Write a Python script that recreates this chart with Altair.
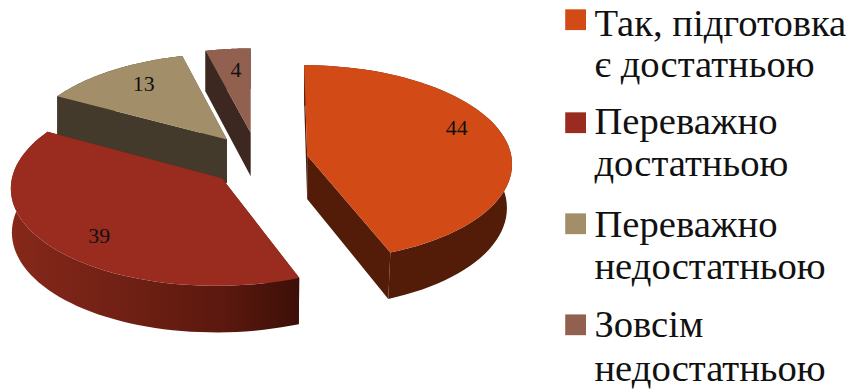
import math
import altair as alt
import pandas as pd

categories = ["Так, підготовка є достатньою", "Переважно достатньою", "Переважно недостатньою", "Зовсім недостатньою"]
values = [44, 39, 13, 4]
top_colors = ["#d24a16", "#992b1f", "#a38e6a", "#92604f"]
wall_colors = ["#521c08", "#6a1e12", "#433a2b", "#3c2820"]
legend_lines = [["Так, підготовка", "є достатньою"], ["Переважно", "достатньою"],
                ["Переважно", "недостатньою"], ["Зовсім", "недостатньою"]]

# geometry of the exploded, tilted pie, in picture pixels: cx, cy, rx, ry, shear, bottom-rim factor
geom = [(307, 155, 206, 98.5, -3, 0.975), (221, 178, 212, 101, 6, 0.995), (226, 139, 204, 94, 2, 1.0), (250, 132, 198, 92, 0, 1.0)]
DEPTH = 44
KP = 0.076
label_pos = [(458, 127), (97, 236), (142, 83), (235, 69)]
swatch_x = 578
swatch_y = [18, 122, 224, 326]
text_x = 597
line_y = [[34, 76], [133, 176], [237, 280], [338, 383]]


def rim(i, deg):
    cx, cy, rx, ry, sh, _ = geom[i]
    t = math.radians(deg)
    p = 1 - KP * math.cos(t)
    return cx + rx * math.sin(t) * p + sh * math.cos(t), cy - ry * math.cos(t) * p


def rim_bottom(i, deg):
    cx, cy = geom[i][:2]
    x, y = rim(i, deg)
    return cx + (x - cx) * geom[i][5], y + DEPTH - 3 * math.cos(math.radians(deg))


def arc(fn, i, a, b, n=60):
    return [fn(i, a + (b - a) * k / n) for k in range(n + 1)]


X = alt.Scale(domain=[5, 855], nice=False, zero=False)
Y = alt.Scale(domain=[390, 8], nice=False, zero=False)


def surface(points, fill):
    df = pd.DataFrame(points, columns=["x", "y"])
    df["i"] = range(len(df))
    return alt.Chart(df).mark_line(fill=fill, strokeWidth=0, interpolate="linear").encode(
        x=alt.X("x:Q", scale=X, axis=None),
        y=alt.Y("y:Q", scale=Y, axis=None),
        order=alt.Order("i:Q"),
    )


total = sum(values)
spans = []
acc = 0
for v in values:
    spans.append((acc * 360 / total, (acc + v) * 360 / total))
    acc += v

red_grad = alt.Gradient(
    gradient="linear", x1=0, x2=1, y1=0, y2=0,
    stops=[alt.GradientStop(color="#86281a", offset=0), alt.GradientStop(color="#6d1f13", offset=0.45),
           alt.GradientStop(color="#5a180e", offset=0.75), alt.GradientStop(color="#3c0f08", offset=1)],
)

layers = []
for i in [2, 3, 1, 0]:
    a, b = spans[i]
    cx, cy = geom[i][:2]
    wall = red_grad if i == 1 else wall_colors[i]
    apex_bottom = (cx, cy + DEPTH)
    for deg in (a, b):
        layers.append(surface([rim(i, deg), (cx, cy), apex_bottom, rim_bottom(i, deg)], wall_colors[i]))
    layers.append(surface(arc(rim, i, a, b) + arc(rim_bottom, i, b, a), wall))
    layers.append(surface([(cx, cy)] + arc(rim, i, a, b), top_colors[i]))

labels = pd.DataFrame({"x": [p[0] for p in label_pos], "y": [p[1] for p in label_pos], "t": [str(v) for v in values]})
layers.append(alt.Chart(labels).mark_text(font="Liberation Serif", fontSize=22, color="#111111", align="center", baseline="middle").encode(
    x=alt.X("x:Q", scale=X, axis=None), y=alt.Y("y:Q", scale=Y, axis=None), text="t:N"))

sw = pd.DataFrame({"x": [swatch_x] * 4, "y": swatch_y, "c": categories})
layers.append(alt.Chart(sw).mark_square(size=440, opacity=1, filled=True).encode(
    x=alt.X("x:Q", scale=X, axis=None), y=alt.Y("y:Q", scale=Y, axis=None),
    color=alt.Color("c:N", scale=alt.Scale(domain=categories, range=top_colors), legend=None)))

rows = []
for lines, ys in zip(legend_lines, line_y):
    for t, y in zip(lines, ys):
        rows.append({"x": text_x, "y": y, "t": t})
layers.append(alt.Chart(pd.DataFrame(rows)).mark_text(font="Liberation Serif", fontSize=39, color="#111111", align="left", baseline="alphabetic").encode(
    x=alt.X("x:Q", scale=X, axis=None), y=alt.Y("y:Q", scale=Y, axis=None), text="t:N"))

chart = alt.layer(*layers).properties(width=850, height=382, padding=0, autosize=alt.AutoSizeParams(type="none"), background="white").configure_view(stroke=None)
chart.save("out.html", embed_options={"renderer": "svg", "actions": False})
